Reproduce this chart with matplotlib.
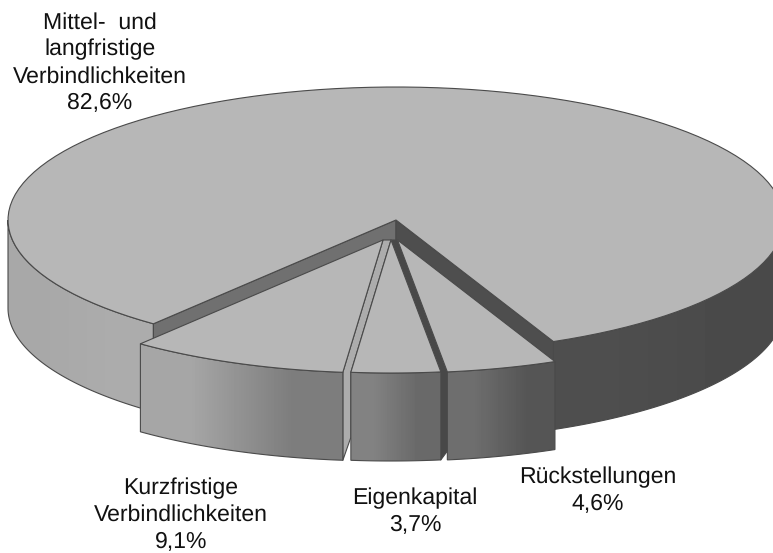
import numpy as np
import matplotlib
matplotlib.use("Agg")
import matplotlib.pyplot as plt
from matplotlib.patches import Polygon

plt.rcParams['font.family'] = ['Liberation Sans', 'DejaVu Sans']
plt.rcParams['text.hinting'] = 'no_hinting'

# share of each slice, going counter-clockwise from the start angle
categories = ["Kurzfristige\nVerbindlichkeiten", "Eigenkapital", "Rückstellungen",
              "Mittel-  und\nlangfristige\nVerbindlichkeiten"]
values = [9.1, 3.7, 4.6, 82.6]

start_angle = 231.3
cx, cy, rx, ry, depth = 396, 220, 388, 133, 88

# styles for the four slices
shift = [(-13, 20), (-5, 20), (1.5, 20), (0, 0)]
wall_grey = [(166, 125), (130, 105), (110, 85), None]
top_grey = 183
line_grey = '#4a4a4a'
label_pos = [(181, 515), (415, 512), (598, 491), (100, 63)]


def grey(v):
    return (v / 255, v / 255, v / 255)


def rim(a0, a1, dx=0, dy=0, n=120):
    t = np.radians(np.linspace(a0, a1, n))
    return np.column_stack([cx + dx + rx * np.cos(t), cy + dy - ry * np.sin(t)])


def draw_wall(ax, a0, a1, g0, g1, dx=0, dy=0, z=1):
    # horizontal gradient clipped to the curved outer wall
    pts = rim(a0, a1, dx, dy, 100)
    down = np.array([0, depth])
    outline = np.vstack([pts, (pts + down)[::-1]])
    im = ax.imshow([[g0, g1]], cmap='gray', vmin=0, vmax=255, aspect='auto',
                   interpolation='bilinear', zorder=z,
                   extent=(outline[:, 0].min(), outline[:, 0].max(),
                           outline[:, 1].max(), outline[:, 1].min()))
    clip = Polygon(outline, closed=True, transform=ax.transData)
    im.set_clip_path(clip)
    ax.add_patch(Polygon(outline, closed=True, fill=False, ec=line_grey, lw=0.8, zorder=z))


def draw_flat(ax, pts, g, z=1):
    ax.add_patch(Polygon(pts, closed=True, fc=grey(g), ec=line_grey, lw=0.8,
                         joinstyle='round', zorder=z))


fig = plt.figure(figsize=(7.73, 5.53), dpi=100)
ax = fig.add_axes([0, 0, 1, 1])

edges = start_angle + np.cumsum([0] + values) * 3.6

# big slice first: outer walls, then the two cut faces, then its top
draw_wall(ax, edges[3], 360, 78, 74, z=1)
draw_wall(ax, 180, start_angle, 168, 172, z=1)
apex = np.array([cx, cy], dtype=float)
down = np.array([0, depth])
for ang, g in [(start_angle, 112), (edges[3], 78)]:
    p = rim(ang, ang, n=1)[0]
    draw_flat(ax, [apex, p, p + down, apex + down], g, z=2)

# strips seen through the gaps between the pulled-out slices
for i, g, frac in [(0, 172, 0.74), (1, 72, 0.9)]:
    a = edges[i + 1]
    d0, d1 = np.array(shift[i]), np.array(shift[i + 1])
    p0 = rim(a, a, n=1)[0] + d0
    p1 = rim(a, a, n=1)[0] + d1
    strip = [apex + d0, apex + d1, p1, p1 + down * frac, p0 + down, p0]
    draw_flat(ax, strip, g, z=3)

draw_flat(ax, np.vstack([[apex], rim(edges[3], edges[4])]), top_grey, z=4)

# pulled-out slices
for i in range(3):
    dx, dy = shift[i]
    draw_wall(ax, edges[i], edges[i + 1], wall_grey[i][0], wall_grey[i][1], dx, dy, z=5 + i)
    draw_flat(ax, np.vstack([[apex + shift[i]], rim(edges[i], edges[i + 1], dx, dy, 60)]),
              top_grey, z=5 + i)

for name, v, (x, y) in zip(categories, values, label_pos):
    txt = name + "\n" + f"{v:.1f}".replace('.', ',') + "%"
    ax.text(x, y, txt, ha='center', va='center', ma='center', fontsize=16.6,
            color='#111111', linespacing=1.32, zorder=10)

ax.set_xlim(0, 773)
ax.set_ylim(553, 0)
ax.axis('off')

fig.savefig("out.png", dpi=100, facecolor='white')
